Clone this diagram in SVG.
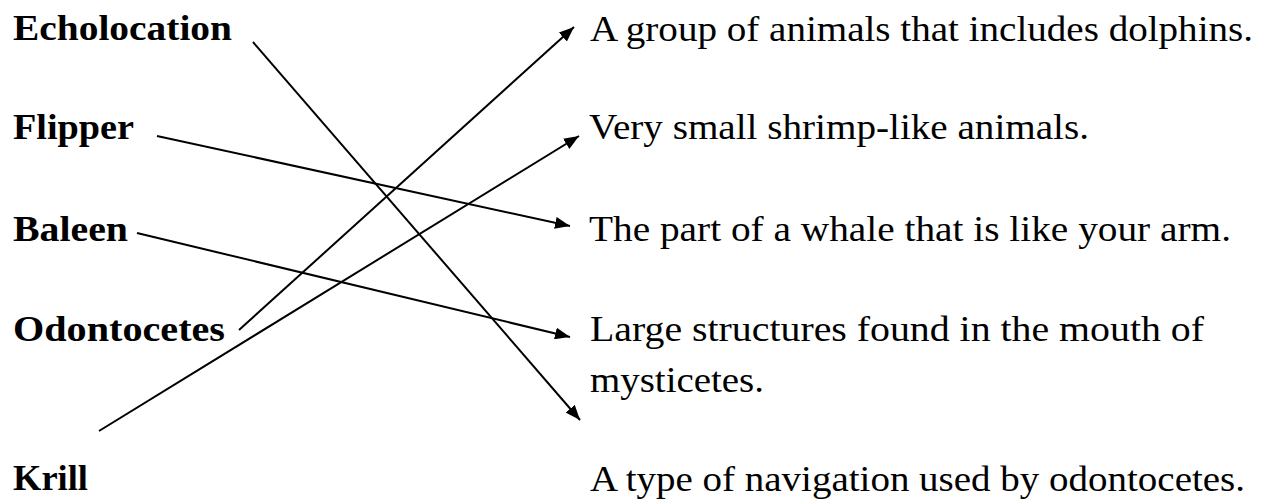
<svg xmlns="http://www.w3.org/2000/svg" width="1266" height="500" viewBox="0 0 1266 500">
<style>
text{font-family:"Liberation Serif","Times New Roman",serif;font-size:35px;fill:#000}
.term{font-weight:bold}
.conn{stroke:#000;stroke-width:2;fill:none;marker-end:url(#ah)}
</style>
<defs>
<marker id="ah" markerUnits="userSpaceOnUse" markerWidth="16" markerHeight="12" refX="15" refY="6" orient="auto">
<path d="M0,0 L15,6 L0,12 Z" fill="#000"/>
</marker>
</defs>
<rect width="1266" height="500" fill="#fff"/>
<g id="term-echolocation"><text class="term" x="13" y="40" textLength="219" lengthAdjust="spacingAndGlyphs">Echolocation</text></g>
<g id="term-flipper"><text class="term" x="13" y="139" textLength="121" lengthAdjust="spacingAndGlyphs">Flipper</text></g>
<g id="term-baleen"><text class="term" x="13" y="241" textLength="115" lengthAdjust="spacingAndGlyphs">Baleen</text></g>
<g id="term-odontocetes"><text class="term" x="13" y="341" textLength="212" lengthAdjust="spacingAndGlyphs">Odontocetes</text></g>
<g id="term-krill"><text class="term" x="13" y="490" textLength="75" lengthAdjust="spacingAndGlyphs">Krill</text></g>
<g id="def-group"><text x="590" y="41" textLength="663" lengthAdjust="spacingAndGlyphs">A group of animals that includes dolphins.</text></g>
<g id="def-shrimp"><text x="589" y="139" textLength="500" lengthAdjust="spacingAndGlyphs">Very small shrimp-like animals.</text></g>
<g id="def-arm"><text x="589" y="241" textLength="642" lengthAdjust="spacingAndGlyphs">The part of a whale that is like your arm.</text></g>
<g id="def-structures"><text x="590" y="341" textLength="614" lengthAdjust="spacingAndGlyphs">Large structures found in the mouth of</text><text x="590" y="392" textLength="174" lengthAdjust="spacingAndGlyphs">mysticetes.</text></g>
<g id="def-navigation"><text x="590" y="491" textLength="655" lengthAdjust="spacingAndGlyphs">A type of navigation used by odontocetes.</text></g>
<g id="connectors">
<line class="conn" x1="253" y1="42" x2="580" y2="420"/>
<line class="conn" x1="157" y1="136" x2="570" y2="226"/>
<line class="conn" x1="137" y1="233" x2="570" y2="337"/>
<line class="conn" x1="239" y1="330" x2="574" y2="27"/>
<line class="conn" x1="99" y1="431" x2="579" y2="136"/>
</g>
</svg>
